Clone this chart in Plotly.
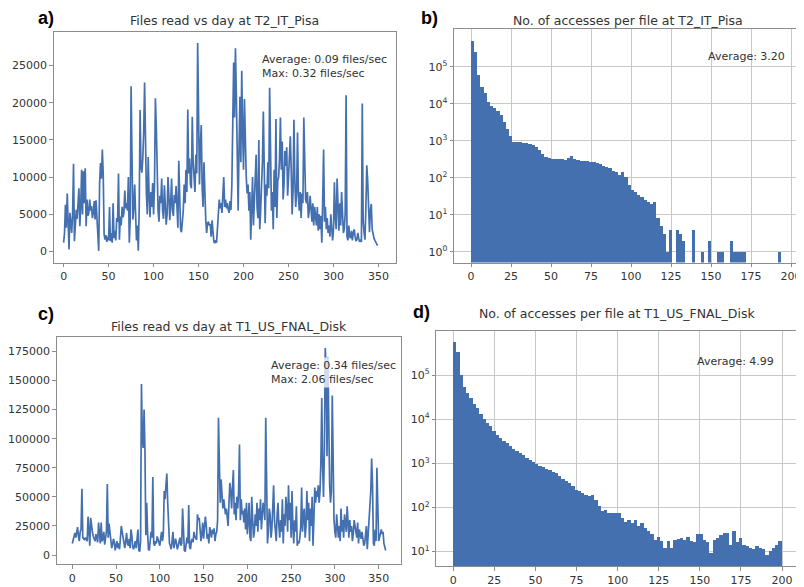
import plotly.graph_objects as go

# ---- panel a: files read per day at T2_IT_Pisa ----
pisa_reads = [
    1200, 2500, 6300, 3200, 7800, 4000, 300, 5200, 3800, 2500,
    5200, 11800, 1400, 3500, 5600, 4400, 6800, 8500, 3400, 6000,
    11000, 5000, 10800, 6500, 11200, 3400, 7000, 4800, 5200, 7000,
    5500, 6100, 4500, 5200, 6800, 4300, 6900, 4800, 3500, 100,
    9200, 11900, 9800, 13700, 10500, 2300, 1600, 2200, 1300, 2000,
    1500, 6000, 1400, 2500, 1200, 6500, 1800, 2800, 1500, 4500,
    4000, 10500, 1600, 4700, 3500, 6000, 4600, 5200, 8200, 5800,
    6500, 5500, 10000, 1200, 4200, 22200, 12800, 4300, 6000, 9000,
    5000, 1500, 3500, 100, 5600, 19000, 11400, 10600, 12500, 16000,
    22700, 10500, 7800, 5000, 12700, 7500, 4600, 8000, 6000, 9200,
    5000, 8800, 20600, 16800, 8000, 5500, 4000, 7500, 6500, 9800,
    5500, 4400, 8900, 6500, 3600, 5000, 10000, 7500, 4200, 6500,
    9800, 5500, 4800, 7600, 6500, 8800, 6000, 3200, 12200, 7000,
    3000, 2600, 3800, 5500, 9000, 6500, 11000, 8000, 19100, 10500,
    12500, 9000, 8500, 18100, 12000, 10400, 8000, 13000, 10500, 28000,
    14000, 9000, 14300, 17000, 8500, 6000, 12000, 6500, 4200, 2500,
    3800, 4000, 3500, 3700, 2000, 4200, 1800, 1300, 1200, 1500,
    1200, 2800, 4500, 7000, 5800, 6500, 5200, 7000, 10000, 6000,
    7000, 5800, 6500, 5600, 5200, 6800, 5600, 9000, 15000, 25400,
    18000, 27300, 21000, 15000, 5500, 14000, 20800, 12000, 24300, 16000,
    11000, 20500, 14000, 10000, 7800, 9000, 5500, 8000, 1600, 6500,
    10000, 3500, 7000, 8000, 13000, 6000, 4500, 15000, 3000, 5500,
    8000, 12000, 18800, 6500, 3800, 9000, 7500, 12000, 8500, 22000,
    12000, 5500, 8000, 3000, 11000, 6000, 17800, 4500, 9500, 10000,
    12500, 18000, 11000, 14800, 7000, 9000, 13500, 11500, 14000, 7500,
    10000, 13000, 15500, 11000, 5000, 8000, 17700, 9500, 6000, 8000,
    16000, 7500, 5500, 8000, 4500, 7800, 6500, 18000, 10000, 7000,
    6500, 8000, 4500, 5500, 7500, 5200, 4000, 6500, 3500, 6000,
    4800, 3500, 6000, 2800, 5000, 3000, 4800, 1200, 7000, 13700,
    4000, 6000, 3000, 4500, 2500, 3500, 2000, 5000, 3200, 1500,
    3000, 9300, 4500, 3000, 9800, 5000, 2800, 6500, 3500, 8000,
    4000, 2500, 3000, 5200, 21000, 2000, 1500, 3500, 2000, 1800,
    2800, 1500, 2500, 3000, 2000, 1400, 1600, 2500, 1800, 1300,
    1500, 1300, 19900, 4000, 2500, 1600, 6000, 11600, 9500, 4500,
    2600, 5500, 6400, 3000, 2000, 1800, 1500, 1200, 1000, 800,
]

# ---- panel c: files read per day at T1_US_FNAL_Disk ----
fnal_reads = [
    10000, 13000, 17000, 19000, 15000, 20000, 24000, 16000, 12000, 20000,
    22000, 57000, 15000, 14000, 13000, 15000, 14000, 12000, 33000, 20000,
    8000, 32000, 22000, 20000, 16000, 14000, 12000, 18000, 13000, 11000,
    28000, 15000, 10000, 28000, 12000, 14000, 20000, 9000, 13000, 20000,
    61000, 15000, 27000, 20000, 10000, 6000, 9000, 14000, 11000, 4000,
    8000, 12000, 6000, 10000, 5000, 17000, 25000, 20000, 15000, 9000,
    6000, 12000, 19000, 10000, 8000, 14000, 6000, 22000, 17000, 7000,
    5000, 8000, 12000, 6000, 14000, 22000, 4000, 3000, 12000, 147000,
    100000, 92000, 125000, 91000, 17000, 45000, 20000, 5000, 4000, 12000,
    20000, 15000, 67000, 10000, 8000, 12000, 10000, 16000, 13000, 9000,
    8000, 15000, 20000, 12000, 18000, 55000, 48000, 60000, 70000, 45000,
    18000, 10000, 8000, 5000, 12000, 20000, 6000, 9000, 14000, 10000,
    5000, 8000, 12000, 15000, 8000, 10000, 40000, 12000, 4000, 3000,
    8000, 15000, 10000, 43000, 7000, 5000, 12000, 14000, 11000, 20000,
    16000, 14000, 13000, 35000, 30000, 32000, 22000, 12000, 18000, 28000,
    14000, 22000, 33000, 26000, 14000, 18000, 10000, 24000, 20000, 15000,
    22000, 18000, 23000, 12000, 18000, 20000, 30000, 118000, 80000, 45000,
    65000, 55000, 40000, 48000, 42000, 35000, 40000, 30000, 25000, 45000,
    62000, 55000, 40000, 58000, 73000, 35000, 45000, 30000, 50000, 40000,
    55000, 95000, 30000, 48000, 35000, 38000, 28000, 40000, 22000, 45000,
    18000, 30000, 45000, 15000, 12000, 50000, 30000, 15000, 20000, 35000,
    25000, 45000, 20000, 40000, 30000, 48000, 22000, 35000, 45000, 40000,
    30000, 118000, 25000, 10000, 20000, 40000, 35000, 15000, 22000, 45000,
    60000, 30000, 20000, 12000, 35000, 45000, 25000, 15000, 30000, 20000,
    48000, 10000, 35000, 25000, 50000, 40000, 20000, 60000, 30000, 45000,
    15000, 55000, 25000, 10000, 30000, 20000, 42000, 8000, 12000, 10000,
    15000, 25000, 58000, 20000, 35000, 40000, 15000, 25000, 55000, 30000,
    45000, 12000, 40000, 25000, 50000, 8000, 30000, 58000, 45000, 55000,
    50000, 60000, 45000, 55000, 80000, 135000, 75000, 50000, 90000, 178000,
    160000, 85000, 170000, 80000, 60000, 45000, 55000, 137000, 45000, 30000,
    20000, 15000, 35000, 18000, 15000, 25000, 12000, 40000, 20000, 30000,
    15000, 35000, 25000, 20000, 42000, 25000, 15000, 30000, 20000, 25000,
    12000, 18000, 30000, 25000, 20000, 15000, 28000, 10000, 22000, 18000,
    14000, 20000, 12000, 8000, 10000, 22000, 25000, 5000, 18000, 30000,
    40000, 55000, 83000, 60000, 10000, 8000, 22000, 12000, 75000, 20000,
    12000, 15000, 20000, 22000, 18000, 20000, 10000, 7000, 4000,
]

# ---- histograms: bins of width 2 from 0 to 200 ----
bin_centers = [1 + 2 * i for i in range(100)]

pisa_counts = [
    490000, 250000, 59000, 28000, 19000, 11000, 8700, 7500, 6300, 4900,
    3200, 2100, 1350, 950, 900, 900, 880, 850, 820, 760,
    700, 560, 440, 370, 340, 330, 330, 320, 320, 310,
    350, 380, 320, 300, 290, 285, 280, 270, 260, 250,
    230, 210, 200, 185, 150, 140, 120, 140, 105, 63,
    47, 42, 35, 30, 25, 22, 20, 22, 8, 5,
    3, 1, 4, None, 4, 3, 2, None, None, 4,
    None, None, 1, None, 2, None, None, 1, 1, None,
    None, 2, 1, 1, 1, 1, None, None, None, None,
    None, None, None, None, None, None, 1, None, None, None,
]

fnal_counts = [
    560000, 320000, 100000, 53000, 39000, 30000, 22000, 18000, 13000, 10000,
    8100, 6900, 5200, 4300, 3700, 3100, 2800, 2400, 2100, 1900,
    1700, 1500, 1300, 1170, 1070, 950, 860, 800, 730, 690,
    630, 600, 510, 430, 380, 350, 300, 245, 235, 210,
    190, 175, 183, 146, 104, 83, 87, 73, 73, 73,
    73, 56, 46, 51, 44, 51, 37, 44, 34, 28,
    24, 18, 21, 17, 12, 17, 12, 18, 19, 20,
    18, 21, 17, 16, 24, 24, 18, 16, 9, 18,
    20, 23, 26, 25, 14, 28, 16, 20, 14, 13,
    12, 11, 13, 12, 11, 8, 10, 12, 14, 17,
]

day_ticks = [0, 50, 100, 150, 200, 250, 300, 350]
bin_ticks = [0, 25, 50, 75, 100, 125, 150, 175, 200]
pisa_ticks = [0, 5000, 10000, 15000, 20000, 25000]
fnal_ticks = [0, 25000, 50000, 75000, 100000, 125000, 150000, 175000]
log_ticks_b = [1, 10, 100, 1000, 10000, 100000]
log_ticks_d = [10, 100, 1000, 10000, 100000]

BLUE = "#4470b0"
FONT = "DejaVu Sans"
TICKFONT = dict(family=FONT, size=11, color="#333333")
SPINE = "#8c8c8c"
GRID = "#c8c8c8"

# the page body keeps its default 8px margin, so the figure is drawn 8px in
# from the top-left corner; shrink it and shift all positions to suit
OFF = 8
W, H = 804 - OFF, 587 - OFF

fig = go.Figure()

fig.add_trace(go.Scatter(x=list(range(len(pisa_reads))), y=pisa_reads, mode="lines",
                         line=dict(color=BLUE, width=1.7), xaxis="x", yaxis="y"))
fig.add_trace(go.Bar(x=bin_centers, y=pisa_counts, width=2, marker=dict(color=BLUE, line=dict(width=0)),
                     xaxis="x2", yaxis="y2"))
fig.add_trace(go.Scatter(x=list(range(len(fnal_reads))), y=fnal_reads, mode="lines",
                         line=dict(color=BLUE, width=1.7), xaxis="x3", yaxis="y3"))
fig.add_trace(go.Bar(x=bin_centers, y=fnal_counts, width=2, marker=dict(color=BLUE, line=dict(width=0)),
                     xaxis="x4", yaxis="y4"))


def ax(domain, anchor, rng, **kw):
    d = dict(domain=domain, anchor=anchor, range=rng, showline=True, mirror=True,
             linecolor=SPINE, linewidth=1, ticks="outside", ticklen=3.5, tickcolor=SPINE,
             tickfont=TICKFONT, showgrid=False, zeroline=False, ticklabeloverflow="allow")
    d.update(kw)
    return d


def xd(a, b):
    return [max(0, (a - OFF) / W), min(1, (b - OFF) / W)]


def yd(top, bottom):
    return [max(0, 1 - (bottom - OFF) / H), min(1, 1 - (top - OFF) / H)]


def sup(n):
    return "10<sup>%d</sup>" % n


def plain(vals):
    return [str(v) for v in vals]


fig.update_layout(
    width=W, height=H,
    margin=dict(l=0, r=0, t=0, b=0),
    paper_bgcolor="white", plot_bgcolor="white",
    showlegend=False, bargap=0,
    xaxis=ax(xd(50, 394), "y", [-11, 369], tickvals=day_ticks, ticktext=plain(day_ticks)),
    yaxis=ax(yd(32, 263), "x", [-1475, 29500], tickvals=pisa_ticks, ticktext=plain(pisa_ticks)),
    xaxis2=ax(xd(453, 804), "y2", [-10.5, 207.5], tickvals=bin_ticks, ticktext=plain(bin_ticks),
              showgrid=True, gridcolor=GRID),
    yaxis2=ax(yd(29, 263), "x2", [-0.29, 6.02], type="log", tickvals=log_ticks_b,
              ticktext=[sup(i) for i in range(6)], showgrid=True, gridcolor=GRID),
    xaxis3=ax(xd(53, 399), "y3", [-17.8, 375], tickvals=day_ticks, ticktext=plain(day_ticks)),
    yaxis3=ax(yd(338, 565), "x3", [-7700, 187000], tickvals=fnal_ticks, ticktext=plain(fnal_ticks)),
    xaxis4=ax(xd(435, 800), "y4", [-10.3, 210.3], tickvals=bin_ticks, ticktext=plain(bin_ticks),
              showgrid=True, gridcolor=GRID),
    yaxis4=ax(yd(332, 567), "x4", [0.67, 5.99], type="log", tickvals=log_ticks_d,
              ticktext=[sup(i) for i in range(1, 6)], showgrid=True, gridcolor=GRID),
)

titlefont = dict(family=FONT, size=12.5, color="#333333")
labelfont = dict(family="Liberation Sans", size=18, color="black")
notefont = dict(family=FONT, size=11, color="#333333")

notes = [
    # titles
    (222, 21, "Files read vs day at T2_IT_Pisa", titlefont, "center"),
    (628, 21, "No. of accesses per file at T2_IT_Pisa", titlefont, "center"),
    (226, 327, "Files read vs day at T1_US_FNAL_Disk", titlefont, "center"),
    (617, 314, "No. of accesses per file at T1_US_FNAL_Disk", titlefont, "center"),
    # panel letters
    (42, 18, "<b>a)</b>", labelfont, "center"),
    (428, 18, "<b>b)</b>", labelfont, "center"),
    (42, 315, "<b>c)</b>", labelfont, "center"),
    (420, 313, "<b>d)</b>", labelfont, "center"),
    # stats
    (258, 67, "Average: 0.09 files/sec<br>Max: 0.32 files/sec", notefont, "left"),
    (706, 57, "Average: 3.20", notefont, "left"),
    (267, 373, "Average: 0.34 files/sec<br>Max: 2.06 files/sec", notefont, "left"),
    (695, 362, "Average: 4.99", notefont, "left"),
]
for x, y, text, font, align in notes:
    fig.add_annotation(x=(x - OFF) / W, y=1 - (y - OFF) / H, xref="paper", yref="paper", text=text,
                       showarrow=False, font=font, align=align,
                       xanchor="left" if align == "left" else "center", yanchor="middle",
                       bgcolor="rgba(255,255,255,0.75)" if align == "left" and "files" in text else None)

fig.write_html("out.html")
